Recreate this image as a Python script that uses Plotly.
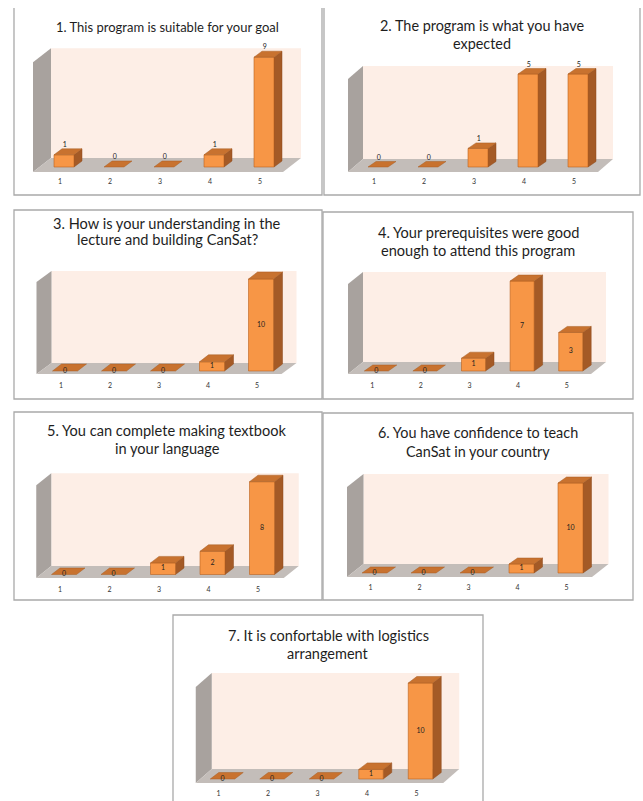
import plotly.graph_objects as go

W, H = 643, 801

# ---------------- data ----------------
categories = [1, 2, 3, 4, 5]
cat_labels = ["1", "2", "3", "4", "5"]

q1_title = ["1. This program is suitable for your goal"]
q2_title = ["2. The program is what you have", "expected"]
q3_title = ["3. How is your understanding in the", "lecture and building CanSat?"]
q4_title = ["4. Your prerequisites were good", "enough to attend this program"]
q5_title = ["5. You can complete making textbook", "in your language"]
q6_title = ["6. You have confidence to teach", "CanSat in your country"]
q7_title = ["7. It is confortable with logistics", "arrangement"]

q1_values = [1, 0, 0, 1, 9]
q2_values = [0, 0, 1, 5, 5]
q3_values = [0, 0, 0, 1, 10]
q4_values = [0, 0, 1, 7, 3]
q5_values = [0, 0, 1, 2, 8]
q6_values = [0, 0, 0, 1, 10]
q7_values = [0, 0, 0, 1, 10]

# ---------------- layout geometry (pixels) ----------------
panels = [
    dict(values=q1_values, title=q1_title, box=(14, 8, 322, 195), open_top=True,
         title_x=167, title_y=[27], title_fs=13,
         cx1=64, pitch=50, yb=167, ppu=12.2, bw=20, bd=(8, -6), F=(-6, 5), B=(12, -9), lab="top"),
    dict(values=q2_values, title=q2_title, box=(324, 8, 640, 195), open_top=True,
         title_x=482, title_y=[26, 43.5], title_fs=14.4,
         cx1=378, pitch=50, yb=167, ppu=18.6, bw=20, bd=(8, -5.5), F=(-5, 5), B=(10, -8), lab="top"),
    dict(values=q3_values, title=q3_title, box=(14, 210, 322, 399), open_top=False,
         title_x=167, title_y=[223, 239], title_fs=14.6,
         cx1=65, pitch=49, yb=371, ppu=9.2, bw=25, bd=(9, -7), F=(-4, 3), B=(11, -8), lab="mid"),
    dict(values=q4_values, title=q4_title, box=(323, 212, 633, 399), open_top=False,
         title_x=478, title_y=[232, 250], title_fs=14.6,
         cx1=376.3, pitch=48.6, yb=371, ppu=12.85, bw=24, bd=(8.5, -6), F=(-4, 3), B=(11, -9), lab="mid"),
    dict(values=q5_values, title=q5_title, box=(14, 412, 322, 600), open_top=False,
         title_x=167, title_y=[430, 448], title_fs=14.6,
         cx1=64, pitch=49.5, yb=574.5, ppu=11.6, bw=25, bd=(8.5, -6.5), F=(-3, 3.5), B=(12, -8.5), lab="mid"),
    dict(values=q6_values, title=q6_title, box=(323, 413, 633, 600), open_top=False,
         title_x=478, title_y=[432, 451], title_fs=14.4,
         cx1=374.5, pitch=49, yb=573, ppu=9.0, bw=25, bd=(8.5, -6), F=(-3, 4), B=(13.5, -9), lab="mid"),
    dict(values=q7_values, title=q7_title, box=(173, 615, 483, 803), open_top=False,
         title_x=328, title_y=[635, 653], title_fs=14.5,
         cx1=222.5, pitch=49.5, yb=779, ppu=9.6, bw=24.5, bd=(8.5, -6.5), F=(-2, 4), B=(14, -10), lab="mid"),
]

FRONT = "#F79646"
SIDE = "#A45A26"
TOP = "#C8722F"
EDGE = "#B8621F"
BACKWALL = "#FDEEE6"
LEFTWALL = "#A8A29E"
FLOOR = "#C3BDB9"
BORDER = "#A9A9A9"
FONT = "Lato"

fig = go.Figure()
shapes = []
annotations = []
layout_axes = {}


def poly_trace(xs, ys, color, xref, yref, line_color=None, lw=0):
    return go.Scatter(x=xs, y=ys, mode="lines", fill="toself", fillcolor=color,
                      line=dict(color=line_color or color, width=lw),
                      xaxis=xref, yaxis=yref, hoverinfo="skip", showlegend=False)


for i, p in enumerate(panels, start=1):
    xa = "x" if i == 1 else f"x{i}"
    ya = "y" if i == 1 else f"y{i}"
    bx0, by0, bx1, by1 = p["box"]
    cx1, pitch, yb, ppu = p["cx1"], p["pitch"], p["yb"], p["ppu"]
    vals = p["values"]

    # axis domain = panel box (clipped to page); ranges map pixels to data
    dy0, dy1 = max(by0, 0), min(by1, H)
    xr = [1 + (bx0 - cx1) / pitch, 1 + (bx1 - cx1) / pitch]
    yr = [(yb - dy1) / ppu, (yb - dy0) / ppu]
    key_x = "xaxis" if i == 1 else f"xaxis{i}"
    key_y = "yaxis" if i == 1 else f"yaxis{i}"
    layout_axes[key_x] = dict(domain=[bx0 / W, bx1 / W], range=xr, visible=False,
                              fixedrange=True, anchor=ya)
    layout_axes[key_y] = dict(domain=[1 - dy1 / H, 1 - dy0 / H], range=yr, visible=False,
                              fixedrange=True, anchor=xa)

    # depth vectors in data units
    def dv(v):
        return v[0] / pitch, -v[1] / ppu

    Fx, Fy = dv(p["F"])
    Bx, By = dv(p["B"])
    ddx, ddy = dv(p["bd"])
    hw = p["bw"] / 2 / pitch
    lo, hi = categories[0] - 0.5, categories[-1] + 0.5
    ymax = max(vals)

    # back wall
    fig.add_trace(poly_trace([lo + Bx, hi + Bx, hi + Bx, lo + Bx, lo + Bx],
                             [By, By, ymax + By, ymax + By, By], BACKWALL, xa, ya))
    # left wall
    fig.add_trace(poly_trace([lo + Fx, lo + Bx, lo + Bx, lo + Fx, lo + Fx],
                             [Fy, By, ymax + By, ymax + Fy, Fy], LEFTWALL, xa, ya))
    # floor
    fig.add_trace(poly_trace([lo + Fx, hi + Fx, hi + Bx, lo + Bx, lo + Fx],
                             [Fy, Fy, By, By, Fy], FLOOR, xa, ya))

    # bars: top faces, side faces, front faces
    tx, ty, sx, sy, fx, fy = [], [], [], [], [], []
    for c, v in zip(categories, vals):
        tx += [c - hw, c + hw, c + hw + ddx, c - hw + ddx, c - hw, None]
        ty += [v, v, v + ddy, v + ddy, v, None]
        if v > 0:
            sx += [c + hw, c + hw + ddx, c + hw + ddx, c + hw, c + hw, None]
            sy += [0, ddy, v + ddy, v, 0, None]
            fx += [c - hw, c + hw, c + hw, c - hw, c - hw, None]
            fy += [0, 0, v, v, 0, None]
    fig.add_trace(poly_trace(sx, sy, SIDE, xa, ya, "#8E4B1C", 0.5))
    fig.add_trace(poly_trace(fx, fy, FRONT, xa, ya, EDGE, 0.6))
    fig.add_trace(poly_trace(tx, ty, TOP, xa, ya, "#A95F25", 0.5))

    # value labels
    if p["lab"] == "top":
        lx = [c + ddx * 0.1 for c in categories]
        ly = [v + ddy for v in vals]
        pos = "top center"
    else:
        lx = list(categories)
        ly = [v / 2 for v in vals]
        pos = "middle center"
    fig.add_trace(go.Scatter(x=lx, y=ly, mode="text", text=[str(v) for v in vals],
                             textposition=pos, textfont=dict(family=FONT, size=7, color="#222222"),
                             xaxis=xa, yaxis=ya, hoverinfo="skip", showlegend=False,
                             cliponaxis=False))
    # category labels
    fig.add_trace(go.Scatter(x=[c - 4 / pitch for c in categories],
                             y=[-15.5 / ppu] * len(categories), mode="text",
                             text=cat_labels, textposition="middle center",
                             textfont=dict(family=FONT, size=7, color="#333333"),
                             xaxis=xa, yaxis=ya, hoverinfo="skip", showlegend=False,
                             cliponaxis=False))

    # panel border
    if p["open_top"]:
        path = (f"M {bx0 / W},{1 - by0 / H} L {bx0 / W},{1 - by1 / H} "
                f"L {bx1 / W},{1 - by1 / H} L {bx1 / W},{1 - by0 / H}")
        shapes.append(dict(type="path", path=path, xref="paper", yref="paper",
                           line=dict(color=BORDER, width=1.3)))
    else:
        shapes.append(dict(type="rect", x0=bx0 / W, x1=bx1 / W, y0=1 - by1 / H, y1=1 - by0 / H,
                           xref="paper", yref="paper", line=dict(color=BORDER, width=1.3)))

    # title lines
    for line, ty_ in zip(p["title"], p["title_y"]):
        annotations.append(dict(text=line, x=p["title_x"] / W, y=1 - ty_ / H, xref="paper",
                                yref="paper", xanchor="center", yanchor="middle", showarrow=False,
                                font=dict(family=FONT, size=p["title_fs"], color="#1E1E1E")))

fig.update_layout(width=W, height=H, margin=dict(l=0, r=0, t=0, b=0),
                  paper_bgcolor="white", plot_bgcolor="rgba(0,0,0,0)",
                  shapes=shapes, annotations=annotations, showlegend=False,
                  hovermode=False, **layout_axes)

fig.write_html("out.html", config={"displayModeBar": False})
